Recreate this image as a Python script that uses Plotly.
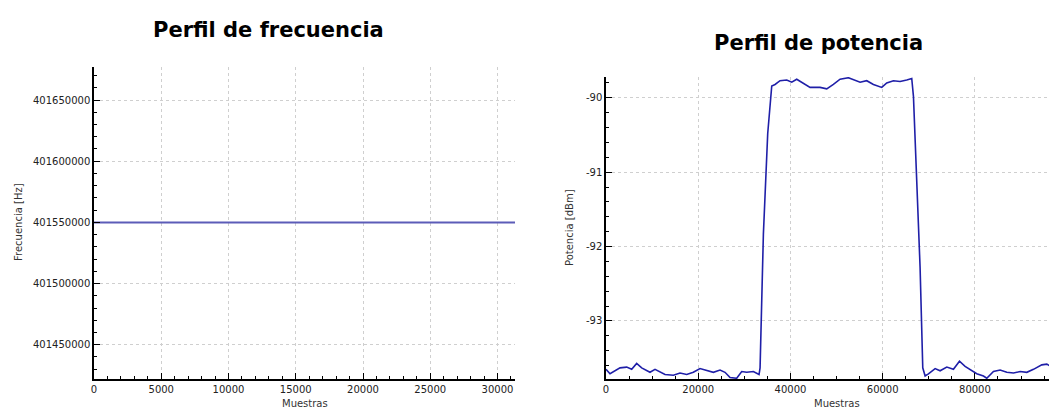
import plotly.graph_objects as go

# ---- Data ----
freq_x = [0, 31300]
freq_y = [401550000, 401550000]

power_x = [0, 870, 3040, 4480, 5570, 6650, 7740, 9540, 10630, 12800, 14610, 16050,
           17500, 18940, 20390, 21840, 23280, 24730, 25810, 26900, 28340, 29430,
           30510, 31960, 33190, 33410, 34130, 35070, 35940, 36660, 37740, 39190,
           40280, 41360, 42810, 44250, 46420, 47870, 49310, 50760, 52570, 54010,
           55100, 56540, 57990, 59800, 60880, 62330, 63770, 65220, 66300, 66670,
           67390, 68110, 68690, 69200, 69920, 71370, 72450, 73900, 75340, 76650,
           77870, 78960, 80400, 81850, 82570, 84020, 85470, 86910, 88360, 89800,
           91250, 92700, 94500, 95590, 97040, 97760]
power_y = [-93.65, -93.71, -93.63, -93.62, -93.65, -93.57, -93.63, -93.69, -93.65,
           -93.72, -93.73, -93.70, -93.72, -93.69, -93.64, -93.67, -93.69, -93.66,
           -93.69, -93.76, -93.77, -93.68, -93.69, -93.68, -93.72, -93.63, -91.83,
           -90.48, -89.84, -89.82, -89.77, -89.76, -89.79, -89.75, -89.80, -89.86,
           -89.86, -89.88, -89.82, -89.75, -89.73, -89.77, -89.79, -89.77, -89.82,
           -89.86, -89.80, -89.77, -89.78, -89.76, -89.74, -89.98, -91.02, -92.28,
           -93.63, -93.74, -93.71, -93.64, -93.67, -93.62, -93.65, -93.54, -93.61,
           -93.65, -93.71, -93.74, -93.77, -93.68, -93.66, -93.69, -93.70, -93.68,
           -93.69, -93.65, -93.59, -93.58, -93.63, -93.64]

freq_ticks = [401450000, 401500000, 401550000, 401600000, 401650000]
power_ticks = [-93, -92, -91, -90]

W, H = 1057, 410
OFF = 8  # page body margin
FONT = "DejaVu Sans"

fig = go.Figure()
fig.add_trace(go.Scatter(x=freq_x, y=freq_y, mode="lines",
                         line=dict(color="#5c5cb8", width=2),
                         xaxis="x", yaxis="y", showlegend=False))
fig.add_trace(go.Scatter(x=power_x, y=power_y, mode="lines",
                         line=dict(color="#1f1fa8", width=1.6),
                         xaxis="x2", yaxis="y2", showlegend=False))

def px_x(p):
    return (p - OFF) / W

def px_y(p):
    return 1 - (p - OFF) / H

common_axis = dict(showline=True, linecolor="black", linewidth=1.5, mirror=False,
                   showgrid=True, gridcolor="#cfcfcf", griddash="dot", gridwidth=1,
                   ticks="inside", ticklen=6, tickcolor="black", tickwidth=1.2,
                   zeroline=False, automargin=False,
                   tickfont=dict(family=FONT, size=10, color="#222222"))

fig.update_layout(
    width=W, height=H, margin=dict(l=0, r=0, t=0, b=0, autoexpand=False),
    paper_bgcolor="white", plot_bgcolor="white",
    xaxis=dict(domain=[px_x(94), px_x(515)], range=[0, 31300], dtick=5000, tick0=0,
               tickformat="d", anchor="y",
               minor=dict(dtick=1000, ticks="inside", ticklen=3,
                          tickcolor="black", showgrid=False),
               **common_axis),
    yaxis=dict(domain=[px_y(379), px_y(67)], range=[401422000, 401677000],
               tickvals=freq_ticks, ticktext=[str(v) for v in freq_ticks],
               anchor="x", minor=dict(dtick=10000, ticks="inside", ticklen=3,
                                      tickcolor="black", showgrid=False),
               **common_axis),
    xaxis2=dict(domain=[px_x(606), px_x(1057)], range=[0, 97800], dtick=20000, tick0=0,
                tickformat="d", anchor="y2",
                minor=dict(dtick=5000, ticks="inside", ticklen=3,
                           tickcolor="black", showgrid=False),
                **common_axis),
    yaxis2=dict(domain=[px_y(379), px_y(77)], range=[-93.78, -89.72],
                tickvals=power_ticks, ticktext=[str(v) for v in power_ticks],
                anchor="x2", minor=dict(dtick=0.2, ticks="inside", ticklen=3,
                                        tickcolor="black", showgrid=False),
                **common_axis),
)

annos = [
    ("<b>Perfil de frecuencia</b>", 268, 30, 0, 21, "black"),
    ("<b>Perfil de potencia</b>", 818, 43, 0, 21, "black"),
    ("Frecuencia [Hz]", 18, 222, -90, 10, "#333333"),
    ("Potencia [dBm]", 569, 228, -90, 10, "#333333"),
    ("Muestras", 305, 403, 0, 10, "#333333"),
    ("Muestras", 837, 403, 0, 10, "#333333"),
]
for text, ax, ay, ang, size, col in annos:
    fig.add_annotation(text=text, x=px_x(ax), y=px_y(ay), xref="paper", yref="paper",
                       xanchor="center", yanchor="middle", textangle=ang,
                       showarrow=False, font=dict(family=FONT, size=size, color=col))

fig.write_html("out.html")
